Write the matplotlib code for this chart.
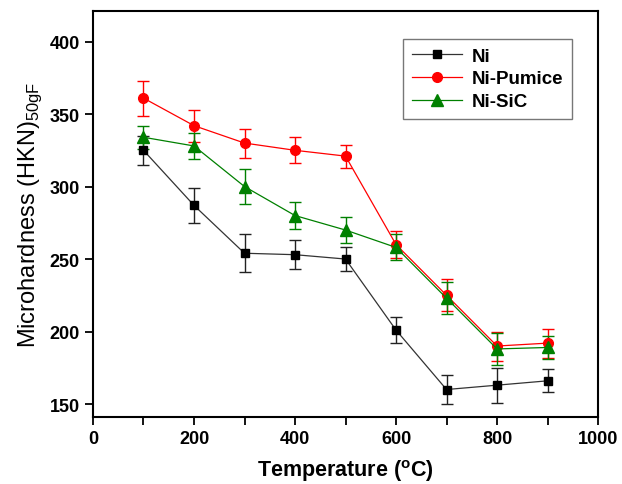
import numpy as np
import matplotlib.pyplot as plt

plt.rcParams['font.family'] = ['Liberation Sans', 'DejaVu Sans']
plt.rcParams['mathtext.fontset'] = 'custom'
plt.rcParams['mathtext.rm'] = 'Liberation Sans'
plt.rcParams['mathtext.bf'] = 'Liberation Sans:bold'

temp = [100, 200, 300, 400, 500, 600, 700, 800, 900]

ni = [325, 287, 254, 253, 250, 201, 160, 163, 166]
ni_err = [10, 12, 13, 10, 8, 9, 10, 12, 8]

pumice = [361, 342, 330, 325, 321, 260, 225, 190, 192]
pumice_err = [12, 11, 10, 9, 8, 9, 11, 10, 10]

sic = [334, 328, 300, 280, 270, 258, 223, 188, 189]
sic_err = [8, 9, 12, 9, 9, 9, 11, 11, 8]

fig = plt.figure(figsize=(6.22, 4.85), dpi=100)
ax = fig.add_axes([0.1495, 0.138, 0.812, 0.837])

c1 = ax.errorbar(temp, ni, yerr=ni_err, color='black', lw=0.9, marker='s', ms=6,
                 capsize=4.5, elinewidth=1.0, ecolor='#222222')
c1[0].set_color('#333333')
c1[0].set_markerfacecolor('black')
c1[0].set_markeredgecolor('black')
c2 = ax.errorbar(temp, pumice, yerr=pumice_err, color='red', lw=0.9, marker='o', ms=7,
                 capsize=4.5, elinewidth=1.0)
c3 = ax.errorbar(temp, sic, yerr=sic_err, color='green', lw=0.9, marker='^', ms=8,
                 capsize=4.5, elinewidth=1.0)

ax.set_xlim(0, 1000)
ax.set_ylim(141, 421)
ax.set_xticks([0, 200, 400, 600, 800, 1000])
ax.set_xticks([100, 300, 500, 700, 900], minor=True)
ax.set_yticks([150, 200, 250, 300, 350, 400])
ax.tick_params(axis='both', which='both', direction='out', length=6, width=1.3)
for lbl in ax.get_xticklabels() + ax.get_yticklabels():
    lbl.set_fontweight('bold')
    lbl.set_fontsize(13)
for s in ax.spines.values():
    s.set_linewidth(1.5)

ax.set_xlabel(r'Temperature ($\mathbf{^{o}}$C)', fontsize=15.5, fontweight='bold',
              labelpad=7)
ax.set_ylabel(r'Microhardness (HKN)$_{\mathrm{50gF}}$', fontsize=17)

leg = ax.legend([c1[0], c2[0], c3[0]], ['Ni', 'Ni-Pumice', 'Ni-SiC'],
                loc='upper right', bbox_to_anchor=(0.948, 0.931), fontsize=13.5,
                fancybox=False, edgecolor='#555555', handlelength=2.7,
                borderpad=0.45, labelspacing=0.3, handletextpad=0.5,
                borderaxespad=0)
leg.get_frame().set_linewidth(1.0)
for t in leg.get_texts():
    t.set_fontweight('bold')

fig.savefig('out.png', dpi=100)
